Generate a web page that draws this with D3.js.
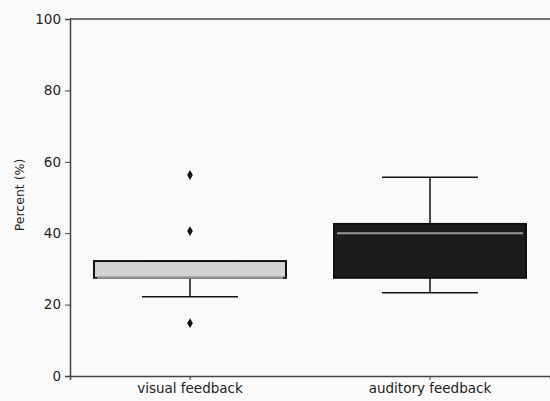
<!DOCTYPE html>
<html>
<head>
<meta charset="utf-8">
<script src="https://cdn.jsdelivr.net/npm/d3@7"></script>
<style>
  body { margin: 0; background: #fafafa; }
  svg { display: block; font-family: "DejaVu Sans", sans-serif; }
</style>
</head>
<body>
<div id="plot"></div>
<script>
// box statistics
var groups = ["visual feedback", "auditory feedback"];
var q1 = [27.5, 27.5];
var median = [27.5, 40.0];
var q3 = [32.2, 42.6];
var whiskLow = [22.2, 23.3];
var whiskHigh = [32.2, 55.7];
var outliers = [[56.3, 40.6, 14.8], []];
var fills = ["#d3d3d3", "#1c1c1c"];
var yTicks = [0, 20, 40, 60, 80, 100];

var width = 550, height = 401;
var margin = { top: 19, left: 70, bottom: 25, right: 0 };

var svg = d3.select("#plot").append("svg")
  .attr("width", width)
  .attr("height", height);

var x = d3.scaleBand()
  .domain(groups)
  .range([margin.left, width - margin.right])
  .paddingInner(0.2)
  .paddingOuter(0.1);

var y = d3.scaleLinear()
  .domain([0, 100])
  .range([height - margin.bottom, margin.top]);

var boxes = groups.map(function(g, i) {
  return { name: g, q1: q1[i], med: median[i], q3: q3[i], lo: whiskLow[i], hi: whiskHigh[i], out: outliers[i], fill: fills[i] };
});

var g = svg.selectAll(".box")
  .data(boxes)
  .enter().append("g")
  .attr("class", "box");

var cx = function(d) { return x(d.name) + x.bandwidth() / 2; };

// whiskers
g.append("line")
  .attr("x1", cx).attr("x2", cx)
  .attr("y1", function(d) { return y(d.lo); })
  .attr("y2", function(d) { return y(d.q1); })
  .attr("stroke", "#111").attr("stroke-width", 1.5);
g.append("line")
  .attr("x1", cx).attr("x2", cx)
  .attr("y1", function(d) { return y(d.hi); })
  .attr("y2", function(d) { return y(d.q3); })
  .attr("stroke", "#111").attr("stroke-width", 1.5);

// caps
[ "lo", "hi" ].forEach(function(k) {
  g.append("line")
    .attr("x1", function(d) { return cx(d) - x.bandwidth() / 4; })
    .attr("x2", function(d) { return cx(d) + x.bandwidth() / 4; })
    .attr("y1", function(d) { return y(d[k]); })
    .attr("y2", function(d) { return y(d[k]); })
    .attr("stroke", "#111").attr("stroke-width", 1.5);
});

// box
g.append("rect")
  .attr("x", function(d) { return x(d.name); })
  .attr("width", x.bandwidth())
  .attr("y", function(d) { return y(d.q3); })
  .attr("height", function(d) { return y(d.q1) - y(d.q3); })
  .attr("fill", function(d) { return d.fill; })
  .attr("stroke", "#111").attr("stroke-width", 2);

// median
g.append("line")
  .attr("x1", function(d) { return x(d.name) + 3; })
  .attr("x2", function(d) { return x(d.name) + x.bandwidth() - 3; })
  .attr("y1", function(d) { return y(d.med); })
  .attr("y2", function(d) { return y(d.med); })
  .attr("stroke", "#999").attr("stroke-width", 2);

// fliers
g.selectAll(".flier")
  .data(function(d) { return d.out.map(function(v) { return { name: d.name, v: v }; }); })
  .enter().append("path")
  .attr("class", "flier")
  .attr("d", d3.symbol().type(d3.symbolDiamond).size(28))
  .attr("transform", function(d) { return "translate(" + cx(d) + "," + y(d.v) + ")"; })
  .attr("fill", "#111");

// axes
var yAxis = svg.append("g")
  .attr("transform", "translate(" + margin.left + ",0)")
  .call(d3.axisLeft(y).tickValues(yTicks).tickSize(5).tickPadding(4));
var xAxis = svg.append("g")
  .attr("transform", "translate(0," + (height - margin.bottom) + ")")
  .call(d3.axisBottom(x).tickSize(4).tickPadding(3));

[yAxis, xAxis].forEach(function(a) {
  a.attr("font-family", "DejaVu Sans, sans-serif").attr("font-size", 13.5);
  a.select(".domain").attr("stroke", "#444").attr("stroke-width", 1.5);
  a.selectAll(".tick line").attr("stroke", "#444");
  a.selectAll("text").attr("fill", "#222");
});

// top spine (right one falls outside the crop)
svg.append("line")
  .attr("x1", margin.left).attr("x2", width)
  .attr("y1", y(100)).attr("y2", y(100))
  .attr("stroke", "#444").attr("stroke-width", 1.5);

svg.append("text")
  .attr("transform", "translate(24," + y(50.7) + ") rotate(-90)")
  .attr("text-anchor", "middle")
  .attr("font-size", 12.5)
  .attr("fill", "#222")
  .text("Percent (%)");
</script>
</body>
</html>
